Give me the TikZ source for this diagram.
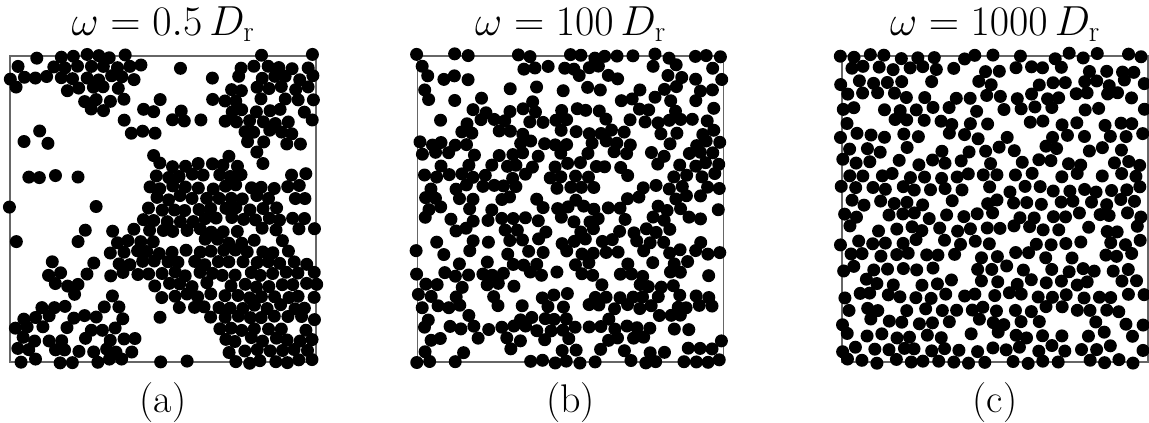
\documentclass[tikz,border=0pt]{standalone}
\usepackage{fix-cm}
\usetikzlibrary{positioning}

\tikzset{
  panel/.style={draw=black!60, line width=1.2pt, minimum size=306pt, inner sep=0pt, outer sep=0pt},
  ptitle/.style={anchor=base, font=\fontsize{42}{50}\selectfont},
  plabel/.style={anchor=base, font=\fontsize{40}{48}\selectfont},
  disc/.style={fill=black}
}

\begin{document}
\begin{tikzpicture}[x=1pt, y=-1pt]
        \useasboundingbox (0,0) rectangle (1149,423);
        \pgfmathsetseed{7}
        % three boxes
        \node[panel] (boxa) at (163,209) {};
        \node[panel] (boxb) at (570.5,209) {};
        \node[panel] (boxc) at (995,209) {};
        \node[ptitle] (tita) at ([yshift=21pt]boxa.north) {$\omega = 0.5\,D_\mathrm{r}$};
        \node[ptitle] (titb) at ([yshift=21pt]boxb.north) {$\omega = 100\,D_\mathrm{r}$};
        \node[ptitle] (titc) at ([yshift=21pt]boxc.north) {$\omega = 1000\,D_\mathrm{r}$};
        \node[plabel] (laba) at ([yshift=-50pt]boxa.south) {(a)};
        \node[plabel] (labb) at ([yshift=-50pt]boxb.south) {(b)};
        \node[plabel] (labc) at ([yshift=-50pt]boxc.south) {(c)};
        % (a) clusters and gas
        \begin{scope}[shift={(boxa.north west)}]
          \foreach \j in {0,...,28}
            \foreach \i in {0,...,24} {
              \pgfmathsetmacro\px{12.6*(\i+0.5*mod(\j,2))+2.2*rand}
              \pgfmathsetmacro\py{10.9*\j+2.2*rand}
              \pgfmathsetmacro\dens{max(0.12,
                0.93*(veclen(\px-200,\py-185)<78), 0.93*(veclen(\px-265,\py-260)<62),
                0.93*(veclen(\px-290,\py-300)<30), 0.7*(veclen(\px-120,\py-200)<28),
                0.85*(veclen(\px-175,\py-140)<42), 0.88*(veclen(\px-265,\py-45)<50),
                0.88*(veclen(\px-292,\py-15)<25), 0.7*(veclen(\px-230,\py-110)<25),
                0.5*(veclen(\px-285,\py-150)<35),
                0.88*(veclen(\px-85,\py-20)<40), 0.7*(veclen(\px-20,\py-20)<20),
                0.5*(veclen(\px-150,\py-65)<32), 0.88*(veclen(\px-40,\py-285)<38),
                0.85*(veclen(\px-100,\py-290)<28), 0.55*(veclen(\px-50,\py-235)<35),
                0.5*(veclen(\px-100,\py-250)<25))}
              \pgfmathtruncatemacro\keep{(rnd<\dens)*(\px<307)}
              \ifnum\keep=1 \fill[disc] (\px,\py) circle[radius=6.5pt]; \fi
            }
        \end{scope}
        % (b) clumpy liquid
        \begin{scope}[shift={(boxb.north west)}]
          \foreach \j in {0,...,28}
            \foreach \i in {0,...,24} {
              \pgfmathsetmacro\px{12.6*(\i+0.5*mod(\j,2))+2.5*rand}
              \pgfmathsetmacro\py{10.9*\j+2.5*rand}
              \pgfmathtruncatemacro\keep{(rnd<0.58)*(\px<307)}
              \ifnum\keep=1 \fill[disc] (\px,\py) circle[radius=6.5pt]; \fi
            }
        \end{scope}
        % (c) homogeneous
        \begin{scope}[shift={(boxc.north west)}]
          \foreach \j in {0,...,23}
            \foreach \i in {0,...,20} {
              \pgfmathsetmacro\px{15*(\i+0.5*mod(\j,2))+3.2*rand}
              \pgfmathsetmacro\py{13.3*\j+3.2*rand}
              \pgfmathtruncatemacro\keep{(rnd<0.83)*(\px<307)}
              \ifnum\keep=1 \fill[disc] (\px,\py) circle[radius=6.5pt]; \fi
            }
        \end{scope}
     \end{tikzpicture}
\end{document}
